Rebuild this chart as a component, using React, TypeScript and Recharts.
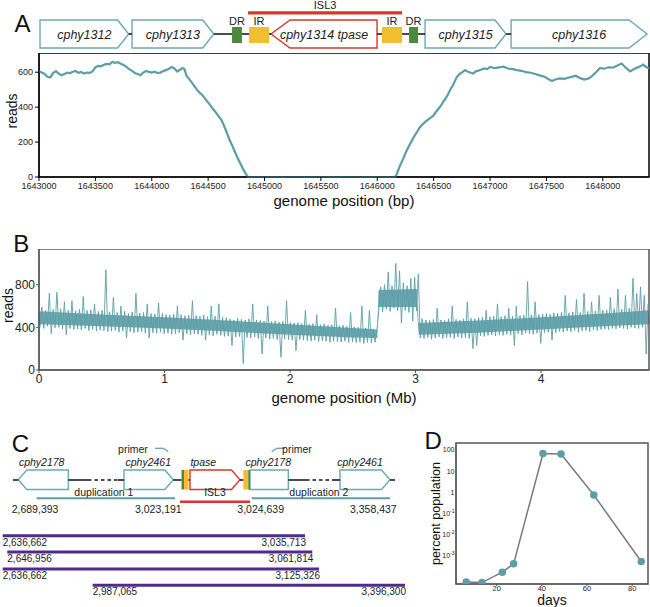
import React from 'react'
import {
  ComposedChart, LineChart, Line, Area, XAxis, YAxis, ReferenceArea, ReferenceLine, ReferenceDot, Label,
} from 'recharts'

const FONT = '"Liberation Sans", Arial, Helvetica, sans-serif'
const TEAL = '#5c9ea7'
const GENE = '#6aaab4'
const RED = '#d7372b'
const GREEN = '#4b8a3c'
const YELLOW = '#f2bd30'
const PURPLE = '#4f2b8e'

// ---- A: coverage over the ISL3 insertion
const aPos = [
  1643000, 1643025, 1643050, 1643075, 1643100, 1643125, 1643150, 1643175, 1643200, 1643225,
  1643250, 1643275, 1643300, 1643325, 1643350, 1643375, 1643400, 1643425, 1643450, 1643475,
  1643500, 1643525, 1643550, 1643575, 1643600, 1643625, 1643650, 1643675, 1643700, 1643725,
  1643750, 1643775, 1643800, 1643825, 1643850, 1643875, 1643900, 1643925, 1643950, 1643975,
  1644000, 1644025, 1644050, 1644075, 1644100, 1644125, 1644150, 1644175, 1644200, 1644225,
  1644250, 1644270, 1644290, 1644310, 1644340, 1644370, 1644400, 1644428, 1644450, 1644470,
  1644495, 1644517, 1644540, 1644560, 1644590, 1644615, 1644640, 1644665, 1644690, 1644715,
  1644740, 1644765, 1644790, 1644810, 1644830, 1644845, 1644855, 1645500, 1646160, 1646175,
  1646200, 1646230, 1646260, 1646298, 1646325, 1646350, 1646375, 1646400, 1646430, 1646468,
  1646495, 1646520, 1646557, 1646580, 1646600, 1646625, 1646645, 1646675, 1646705, 1646730,
  1646755, 1646780, 1646805, 1646830, 1646850, 1646875, 1646900, 1646925, 1646950, 1646975,
  1647000, 1647040, 1647080, 1647120, 1647160, 1647200, 1647240, 1647280, 1647320, 1647360,
  1647400, 1647440, 1647480, 1647520, 1647550, 1647580, 1647620, 1647660, 1647700, 1647730,
  1647760, 1647800, 1647834, 1647870, 1647900, 1647940, 1647976, 1648010, 1648050, 1648090,
  1648130, 1648167, 1648200, 1648242, 1648270, 1648300, 1648330, 1648358, 1648385, 1648410,
]
const aReads = [
  605, 598, 590, 574, 570, 595, 606, 592, 583, 590,
  597, 594, 603, 607, 596, 601, 592, 598, 596, 605,
  628, 636, 634, 642, 648, 645, 659, 654, 657, 648,
  642, 630, 618, 608, 596, 590, 583, 598, 607, 602,
  598, 603, 596, 598, 606, 612, 618, 630, 622, 604,
  614, 624, 618, 577, 555, 528, 500, 480, 468, 452,
  430, 413, 392, 377, 350, 330, 295, 255, 212, 178,
  140, 105, 72, 45, 22, 8, 0, 0, 0, 20,
  62, 105, 150, 198, 230, 255, 282, 300, 318, 337,
  350, 372, 402, 425, 445, 470, 497, 530, 572, 590,
  600, 612, 602, 597, 592, 605, 610, 616, 622, 618,
  630, 624, 628, 632, 621, 618, 612, 608, 600, 597,
  590, 582, 575, 560, 550, 558, 565, 562, 570, 575,
  580, 566, 558, 563, 575, 600, 624, 620, 628, 626,
  638, 650, 628, 605, 615, 625, 632, 644, 630, 621,
]
const aTicks = [1643000, 1643500, 1644000, 1644500, 1645000, 1645500, 1646000, 1646500, 1647000, 1647500, 1648000]

const aGeneNames = ['cphy1312', 'cphy1313', 'cphy1314 tpase', 'cphy1315', 'cphy1316']
const aGeneStart = [1643009, 1643825, 1645058, 1646424, 1647187]
const aGeneEnd = [1643795, 1644550, 1645998, 1647142, 1648393]
const aGeneStrand = [1, 1, -1, 1, 1]
const aRepeatNames = ['DR', 'IR', 'IR', 'DR']
const aRepeatStart = [1644712, 1644863, 1646042, 1646282]
const aRepeatEnd = [1644800, 1645040, 1646220, 1646362]
const aIsl = [1644854, 1646220]

// ---- B: genome-wide coverage, 30 kb bins (low / high of each bin)
const BIN = 0.03
const bLow = [
  400, 390, 410, 340, 395, 400, 385, 330, 390, 380,
  385, 375, 390, 370, 380, 365, 375, 370, 360, 365,
  370, 355, 365, 300, 360, 350, 355, 360, 345, 300,
  350, 345, 355, 340, 345, 335, 340, 350, 280, 340,
  330, 340, 335, 325, 280, 330, 320, 335, 325, 315,
  320, 230, 310, 315, 60, 305, 300, 310, 295, 150,
  300, 290, 295, 285, 120, 290, 285, 280, 180, 285,
  280, 275, 270, 280, 265, 275, 270, 260, 270, 265,
  262, 270, 258, 265, 255, 262, 250, 258, 255, 260,
  560, 545, 570, 550, 580, 555, 440, 560, 540, 460, 555,
  300, 295, 305, 290, 300, 310, 295, 300, 305,
  295, 310, 300, 305, 295, 200, 230, 320, 315, 325,
  330, 320, 330, 325, 335, 330, 230, 340, 330, 345,
  340, 335, 345, 250, 350, 355, 280, 350, 360, 355,
  365, 360, 370, 355, 365, 370, 360, 375, 370, 380,
  385, 380, 390, 385, 395, 390, 385, 400, 395, 390, 400, 150,
]
const bHigh = [
  590, 560, 720, 570, 730, 575, 640, 560, 650, 555,
  570, 690, 560, 565, 620, 550, 560, 940, 545, 680,
  540, 600, 550, 530, 545, 720, 535, 540, 620, 530,
  525, 630, 530, 520, 515, 525, 600, 520, 510, 515,
  650, 510, 505, 515, 500, 600, 505, 620, 495, 490,
  480, 470, 485, 475, 470, 480, 620, 470, 465, 460,
  600, 455, 460, 450, 455, 650, 445, 440, 445, 435,
  560, 430, 435, 520, 425, 430, 420, 425, 580, 415,
  420, 410, 540, 405, 400, 600, 395, 560, 385, 380,
  780, 800, 920, 790, 1000, 930, 820, 790, 860, 870, 900,
  480, 470, 465, 475, 580, 470, 465, 480, 600,
  475, 470, 480, 640, 485, 480, 490, 495, 560, 500,
  505, 620, 500, 510, 580, 505, 600, 510, 515, 830,
  515, 640, 520, 525, 530, 525, 535, 530, 540, 700,
  535, 545, 660, 540, 720, 550, 640, 555, 700, 560,
  565, 680, 575, 760, 570, 700, 580, 860, 720, 780, 700, 620,
]
// dense core of the coverage band
const bBandPos = [0, 0.5, 1.0, 1.5, 2.0, 2.5, 2.695, 2.705, 3.01, 3.025, 3.5, 4.0, 4.5, 4.86]
const bBandLo = [430, 410, 390, 360, 330, 305, 300, 590, 590, 330, 350, 380, 410, 430]
const bBandHi = [550, 520, 495, 465, 430, 395, 380, 750, 760, 440, 465, 495, 530, 560]

// ---- C: duplication schematic
const cGeneNames = ['cphy2178', 'cphy2461', 'tpase', 'cphy2178', 'cphy2461']
const cGeneStrand = [-1, 1, 1, 0, 1]
const cDupNames = ['duplication 1', 'ISL3', 'duplication 2']
const cDupStartLabel = ['2,689,393', '', '3,024,639']
const cDupEndLabel = ['3,023,191', '', '3,358,437']
const cReadStart = ['2,636,662', '2,646,956', '2,636,662', '2,987,065']
const cReadEnd = ['3,035,713', '3,061,814', '3,125,326', '3,396,300']

// ---- D: ISL3 duplication frequency over time
const dDays = [6.5, 13.5, 22.5, 27.5, 40.5, 48.5, 63, 84]
const dPct = [5.8e-5, 5.5e-5, 1.7e-4, 4.2e-4, 67, 63, 0.74, 5.4e-4]
const dTicks = [0.001, 0.01, 0.1, 1, 10, 100]

// layout of the schematic panels
const aGeneTip = [11, 11, 19, 11, 18]
const cGeneSpan = [[18.3, 68.3], [124, 173.3], [190, 240], [250, 288.3], [340, 390]]
const cGeneLabelX = [41.7, 148.3, 203.3, 268.3, 360]
const cSolid = [[13, 18.3], [68.3, 88], [118, 124], [173.3, 181.5], [188.5, 190], [240, 243.3], [288.3, 306], [334, 340], [390, 395]]
const cDashed = [[88, 118], [306, 334]]
const cBoxes = [[181.5, 184, GREEN], [184, 188.5, YELLOW], [243.3, 248.3, YELLOW], [248.3, 250, GREEN]] as const
const cDupSpan = [[36.7, 175], [180, 250], [251.7, 390]]
const cReadSpan = [[2.7, 305], [7.3, 312.3], [2.7, 319], [92.7, 405]]
const cReadY = [115.7, 132, 149, 165.3]

const aData = aPos.map((pos, i) => ({ pos, reads: aReads[i] }))
const bData = bLow.flatMap((lo, k) => [
  { pos: k * BIN + BIN * 0.25, reads: lo },
  { pos: k * BIN + BIN * 0.75, reads: bHigh[k] },
])
const bBand = bBandPos.map((pos, i) => ({ pos, band: [bBandLo[i], bBandHi[i]] }))
const dData = dDays.map((day, i) => ({ day, pct: dPct[i] }))

// backbone pieces between the features of the A track
const aFeatures = [
  ...aGeneStart.map((s, i) => [s, aGeneEnd[i]]),
  ...aRepeatStart.map((s, i) => [s, aRepeatEnd[i]]),
].sort((a, b) => a[0] - b[0])
const aBackbone = aFeatures.slice(1).flatMap((f, i) => [
  { pos: aFeatures[i][1], y: 34 },
  { pos: f[0], y: 34 },
  { pos: f[0] + 1, y: null },
])
const cBackbone = cSolid.flatMap(([a, b]) => [{ x: a, y: 60 }, { x: b, y: 60 }, { x: b + 0.01, y: null }])

function arrowPath(x: number, y: number, w: number, h: number, strand: number, tip: number) {
  if (strand > 0) return `M${x},${y}H${x + w - tip}L${x + w},${y + h / 2}L${x + w - tip},${y + h}H${x}Z`
  if (strand < 0) return `M${x + w},${y}H${x + tip}L${x},${y + h / 2}L${x + tip},${y + h}H${x + w}Z`
  return `M${x},${y}H${x + w}V${y + h}H${x}Z`
}

const geneShape = (label: string, strand: number, tip: number, stroke: string) => (p: any) => (
  <g>
    <path d={arrowPath(p.x, p.y, p.width, p.height, strand, tip)} fill="#fff" stroke={stroke} strokeWidth={1.4} />
    {label && (
      <text x={p.x + p.width / 2} y={p.y + p.height / 2 + 4.5} textAnchor="middle" fontSize={12.5}
        fontStyle="italic" fontFamily={FONT} fill="#222">{label}</text>
    )}
  </g>
)

const textAt = (s: string, anchor: 'start' | 'middle' | 'end', size: number, italic = false) => (p: any) => (
  <text x={p.cx} y={p.cy} textAnchor={anchor} fontSize={size} fontStyle={italic ? 'italic' : 'normal'}
    fontFamily={FONT} fill="#222">{s}</text>
)

const xTitle = (text: string, dy: number, size: number) => (props: any) => {
  const vb = props.viewBox ?? {}
  return (
    <text x={vb.x + vb.width / 2} y={vb.y + dy} textAnchor="middle" dominantBaseline="central"
      fontSize={size} fontFamily={FONT} fill="#111">{text}</text>
  )
}

const yTitle = (text: string, cx: number, size: number, dy = 0) => (props: any) => {
  const vb = props.viewBox ?? {}
  const cy = vb.y + vb.height / 2 + dy
  return (
    <text x={cx} y={cy} transform={`rotate(-90 ${cx} ${cy})`} textAnchor="middle" dominantBaseline="central"
      fontSize={size} fontFamily={FONT} fill="#111">{text}</text>
  )
}

function LogTick({ x, y, payload }: any) {
  const v = payload.value
  const e = Math.round(Math.log10(v))
  return (
    <text x={x} y={y + 2.5} textAnchor="end" fontSize={7} fill="#222" fontFamily={FONT}>
      {e >= 0 ? String(v) : <>10<tspan dy={-3.2} fontSize={5}>{e}</tspan></>}
    </text>
  )
}

const tickA = { fontSize: 9, fill: '#222', fontFamily: FONT }
const tickB = { fontSize: 12, fill: '#222', fontFamily: FONT }

export default function App() {
  return (
    <div style={{ position: 'absolute', left: 0, top: 0, width: 650, height: 607, background: '#fff' }}>
      {/* A: gene track */}
      <div style={{ position: 'absolute', left: 0, top: 0 }}>
        <ComposedChart width={650} height={52} data={aBackbone} margin={{ top: 0, right: 1, bottom: 0, left: 39 }}>
          <XAxis dataKey="pos" type="number" domain={[1643000, 1648410]} allowDataOverflow hide />
          <YAxis type="number" domain={[0, 52]} reversed hide />
          <Line dataKey="y" stroke="#111" strokeWidth={1.3} dot={false} connectNulls={false} isAnimationActive={false} />
          <ReferenceArea x1={aIsl[0]} x2={aIsl[1]} y1={11.2} y2={14.4} fill={RED} fillOpacity={1} stroke="none" />
          <ReferenceDot x={(aIsl[0] + aIsl[1]) / 2} y={8.5} shape={textAt('ISL3', 'middle', 11)} />
          {aGeneNames.map((g, i) => (
            <ReferenceArea key={g} x1={aGeneStart[i]} x2={aGeneEnd[i]} y1={20} y2={48}
              shape={geneShape(g, aGeneStrand[i], aGeneTip[i], aGeneStrand[i] < 0 ? RED : GENE)} />
          ))}
          {aRepeatNames.map((r, i) => (
            <ReferenceArea key={i} x1={aRepeatStart[i]} x2={aRepeatEnd[i]} y1={27} y2={43}
              fill={r === 'DR' ? GREEN : YELLOW} fillOpacity={1} stroke="none" />
          ))}
          {aRepeatNames.map((r, i) => (
            <ReferenceDot key={'l' + i} x={(aRepeatStart[i] + aRepeatEnd[i]) / 2} y={24.5} shape={textAt(r, 'middle', 11)} />
          ))}
        </ComposedChart>
      </div>

      {/* A: coverage */}
      <div style={{ position: 'absolute', left: 0, top: 53 }}>
        <LineChart width={650} height={157} data={aData} margin={{ top: 0, right: 1, bottom: 0, left: 0 }}>
          <XAxis dataKey="pos" type="number" domain={[1643000, 1648410]} allowDataOverflow ticks={aTicks} interval={0}
            tickSize={4} tickMargin={1.5} height={33} stroke="#000" tick={tickA} tickFormatter={(v) => String(v)}>
            <Label content={xTitle('genome position (bp)', 23, 15)} />
          </XAxis>
          <YAxis type="number" domain={[0, 710]} ticks={[0, 200, 400, 600]} interval={0} width={39}
            tickSize={4} tickMargin={2} stroke="#000" tick={tickA}>
            <Label content={yTitle('reads', 12, 14, -4)} />
          </YAxis>
          <ReferenceArea x1={1643000} x2={1648410} y1={0} y2={710} fill="none" stroke="#000" strokeWidth={1.5} />
          <Line dataKey="reads" stroke={TEAL} strokeWidth={2.2} dot={false} isAnimationActive={false} />
        </LineChart>
      </div>

      {/* B: whole genome coverage */}
      <div style={{ position: 'absolute', left: 0, top: 249 }}>
        <ComposedChart width={650} height={160} margin={{ top: 0, right: 1, bottom: 0, left: 0 }}>
          <XAxis dataKey="pos" type="number" domain={[0, 4.86]} allowDataOverflow ticks={[0, 1, 2, 3, 4]} interval={0}
            tickSize={3} tickMargin={1} height={39} stroke="#555" tick={tickB}>
            <Label content={xTitle('genome position (Mb)', 27, 15)} />
          </XAxis>
          <YAxis type="number" domain={[0, 1135]} allowDataOverflow ticks={[0, 400, 800]} interval={0} width={39}
            tickSize={3} tickMargin={1} stroke="#555" tick={tickB}>
            <Label content={yTitle('reads', 7.5, 14, -4)} />
          </YAxis>
          <Area data={bBand} dataKey="band" type="linear" fill={TEAL} fillOpacity={0.9} stroke="none" isAnimationActive={false} />
          <Line data={bData} dataKey="reads" stroke={TEAL} strokeWidth={0.9} dot={false} isAnimationActive={false} />
          <ReferenceArea x1={0} x2={4.86} y1={0} y2={1135} fill="none" stroke="#555" strokeWidth={1.5} />
        </ComposedChart>
      </div>

      {/* C: schematic */}
      <div style={{ position: 'absolute', left: 0, top: 420 }}>
        <ComposedChart width={430} height={187} data={cBackbone} margin={{ top: 0, right: 0, bottom: 0, left: 0 }}>
          <XAxis dataKey="x" type="number" domain={[0, 430]} allowDataOverflow hide />
          <YAxis type="number" domain={[0, 187]} reversed hide />
          <Line dataKey="y" stroke="#111" strokeWidth={1.3} dot={false} connectNulls={false} isAnimationActive={false} />
          {cDashed.map(([a, b], i) => (
            <ReferenceLine key={'d' + i} segment={[{ x: a, y: 60 }, { x: b, y: 60 }]} stroke="#111"
              strokeWidth={1.3} strokeDasharray="3.5 3" />
          ))}
          {cGeneNames.map((g, i) => (
            <ReferenceArea key={'g' + i} x1={cGeneSpan[i][0]} x2={cGeneSpan[i][1]} y1={50} y2={69.5}
              shape={geneShape('', cGeneStrand[i], 8.5, g === 'tpase' ? RED : GENE)} />
          ))}
          {cGeneNames.map((g, i) => (
            <ReferenceDot key={'gl' + i} x={cGeneLabelX[i]} y={45.7} shape={textAt(g, 'middle', 10.5, true)} />
          ))}
          {cBoxes.map(([a, b, c], i) => (
            <ReferenceArea key={'b' + i} x1={a} x2={b} y1={50} y2={69.5} fill={c} fillOpacity={1} stroke="none" />
          ))}
          <ReferenceDot x={133} y={32.7} shape={textAt('primer', 'middle', 10.5)} />
          <ReferenceDot x={297} y={32.7} shape={textAt('primer', 'middle', 10.5)} />
          <ReferenceLine segment={[{ x: 155, y: 28.3 }, { x: 163.3, y: 28.3 }]} stroke={TEAL} strokeWidth={1.2} />
          <ReferenceLine segment={[{ x: 163.3, y: 28.3 }, { x: 168.3, y: 31.7 }]} stroke={TEAL} strokeWidth={1.2} />
          <ReferenceLine segment={[{ x: 276.7, y: 28.3 }, { x: 285, y: 28.3 }]} stroke={TEAL} strokeWidth={1.2} />
          <ReferenceLine segment={[{ x: 271.7, y: 31.7 }, { x: 276.7, y: 28.3 }]} stroke={TEAL} strokeWidth={1.2} />
          {cDupNames.map((d, i) => (
            <ReferenceLine key={'dl' + i} segment={[{ x: cDupSpan[i][0], y: d === 'ISL3' ? 81.7 : 78.3 }, { x: cDupSpan[i][1], y: d === 'ISL3' ? 81.7 : 78.3 }]}
              stroke={d === 'ISL3' ? RED : TEAL} strokeWidth={d === 'ISL3' ? 2.6 : 2} />
          ))}
          {cDupNames.map((d, i) => (
            <ReferenceDot key={'dt' + i} x={(cDupSpan[i][0] + cDupSpan[i][1]) / 2 + (d === 'ISL3' ? 0 : -2)} y={76}
              shape={textAt(d, 'middle', 10.5)} />
          ))}
          {cDupStartLabel.map((s, i) => s && (
            <ReferenceDot key={'ds' + i} x={i === 0 ? 11.7 : 237.3} y={92.5} shape={textAt(s, 'start', 10.5)} />
          ))}
          {cDupEndLabel.map((s, i) => s && (
            <ReferenceDot key={'de' + i} x={i === 0 ? 181.7 : 396.7} y={92.5} shape={textAt(s, 'end', 10.5)} />
          ))}
          {cReadStart.map((s, i) => (
            <ReferenceLine key={'r' + i} segment={[{ x: cReadSpan[i][0], y: cReadY[i] }, { x: cReadSpan[i][1], y: cReadY[i] }]}
              stroke={PURPLE} strokeWidth={3} />
          ))}
          {cReadStart.map((s, i) => (
            <ReferenceDot key={'rs' + i} x={cReadSpan[i][0]} y={cReadY[i] + 10} shape={textAt(s, 'start', 10)} />
          ))}
          {cReadEnd.map((s, i) => (
            <ReferenceDot key={'re' + i} x={cReadSpan[i][1] + 1} y={cReadY[i] + 10} shape={textAt(s, 'end', 10)} />
          ))}
        </ComposedChart>
      </div>

      {/* D: frequency over time */}
      <div style={{ position: 'absolute', left: 420, top: 420 }}>
        <LineChart width={230} height={187} data={dData} margin={{ top: 23, right: 2, bottom: 0, left: 0 }}>
          <XAxis dataKey="day" type="number" domain={[2, 87]} allowDataOverflow ticks={[20, 40, 60, 80]} interval={0}
            tickSize={2} tickMargin={0} height={23} stroke="#555" tick={{ fontSize: 7.5, fill: '#222', fontFamily: FONT }}>
            <Label content={xTitle('days', 16, 14)} />
          </XAxis>
          <YAxis type="number" scale="log" domain={[4.7e-5, 210]} allowDataOverflow ticks={dTicks} interval={0}
            width={36} tickSize={0} tickMargin={1.5} stroke="#555" tick={<LogTick />}>
            <Label content={yTitle('percent population', 15.5, 12.5)} />
          </YAxis>
          <ReferenceArea x1={2} x2={87} y1={4.7e-5} y2={210} fill="none" stroke="#555" strokeWidth={1.5} />
          <Line dataKey="pct" stroke="#7a7a7a" strokeWidth={1.5} dot={{ r: 3, fill: TEAL, stroke: TEAL }}
            isAnimationActive={false} />
        </LineChart>
      </div>

      <svg width={650} height={607} style={{ position: 'absolute', left: 0, top: 0, pointerEvents: 'none' }}>
        <g fontFamily={FONT} fontSize={24} fill="#111">
          <text x={14.5} y={31.7}>A</text>
          <text x={13.3} y={251.7}>B</text>
          <text x={11.7} y={451.7}>C</text>
          <text x={424.5} y={449}>D</text>
        </g>
      </svg>
    </div>
  )
}
